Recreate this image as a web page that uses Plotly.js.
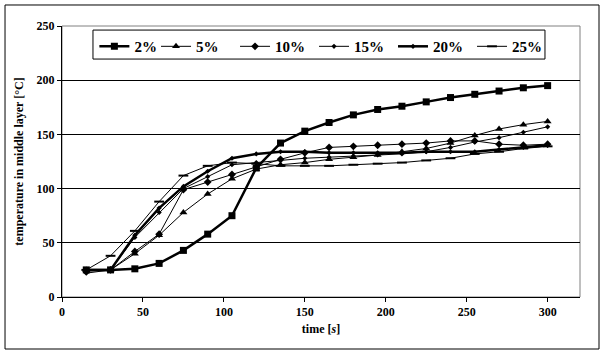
<!DOCTYPE html>
<html>
<head>
<meta charset="utf-8">
<script src="https://cdn.plot.ly/plotly-3.0.1.min.js"></script>
<style>html,body{margin:0;padding:0;background:#fff;}#chart{width:605px;height:354px;}</style>
</head>
<body>
<div id="chart"></div>
<script>
var time = [15,30,45,60,75,90,105,120,135,150,165,180,195,210,225,240,255,270,285,300];
var s2  = [25,25,26,31,43,58,75,119,142,153,161,168,173,176,180,184,187,190,193,195];
var s5  = [25,25,40,57,78,95,109,118,122,124,127,129,131,134,137,142,149,155,159,162];
var s10 = [24,25,42,58,99,106,113,120,127,133,138,139,140,141,142,144,144,141,140,141];
var s15 = [22,25,55,78,100,111,122,124,126,128,129,130,131,132,134,138,143,147,152,157];
var s20 = [25,25,57,82,102,116,128,132,134,134,133,133,133,133,134,134,134,136,138,140];
var s25 = [25,38,61,88,112,121,124,123,121,121,121,122,123,124,126,128,132,134,137,139];
var names = ['2%','5%','10%','15%','20%','25%'];
var xTicks = [0,50,100,150,200,250,300];
var yTicks = [0,50,100,150,200,250];

var styles = [
  {lw:2.5, sym:'square', sz:7},
  {lw:1, sym:'triangle-up', sz:7},
  {lw:1, sym:'diamond', sz:6},
  {lw:1, sym:'diamond', sz:4},
  {lw:2.5, sym:'diamond', sz:4},
  {lw:1, sym:'line-ew', sz:7}
];
var series = [s2,s5,s10,s15,s20,s25];
var traces = series.map(function(s,i){
  var st = styles[i];
  return {
    x: time, y: s, name: names[i], type:'scatter', mode:'lines+markers',
    legend: i===0 ? 'legend' : 'legend2',
    line:{color:'#000', width:st.lw},
    marker:{symbol:st.sym, size:st.sz, color:'#000', line:{color:'#000', width: st.sym==='line-ew'?2:0}}
  };
});

var legFont = {size:15, family:'Liberation Serif, serif', weight:'bold', color:'#000'};
var layout = {
  width:605, height:354,
  margin:{l:62, r:25, t:26, b:57},
  paper_bgcolor:'#fff', plot_bgcolor:'#fff',
  font:{family:'Liberation Serif, Times New Roman, serif', color:'#000'},
  showlegend:true,
  legend:{orientation:'h', x:0.0625, y:0.985, xanchor:'left', yanchor:'top',
    bgcolor:'rgba(0,0,0,0)', borderwidth:0, font:legFont, itemwidth:30},
  legend2:{orientation:'h', x:0.1815, y:0.985, xanchor:'left', yanchor:'top',
    bgcolor:'rgba(0,0,0,0)', borderwidth:0, font:legFont, itemwidth:30,
    entrywidth:34, entrywidthmode:'pixels'},
  xaxis:{range:[0,320], tickvals:xTicks, ticktext:xTicks.map(String),
    showline:true, linecolor:'#000', linewidth:1, ticks:'outside', ticklen:4, tickcolor:'#000',
    showgrid:false, zeroline:false,
    tickfont:{size:12, weight:'bold'},
    title:{text:'time [<i>s</i>]', font:{size:12, weight:'bold'}, standoff:6}},
  yaxis:{range:[0,250], tickvals:yTicks, ticktext:yTicks.map(String),
    showline:true, linecolor:'#000', linewidth:1, ticks:'outside', ticklen:4, tickcolor:'#000',
    showgrid:true, gridcolor:'#000', gridwidth:1, zeroline:false,
    tickfont:{size:12, weight:'bold'},
    title:{text:'temperature in middle layer [°C]', font:{size:12, weight:'bold'}, standoff:10}},
  shapes:[
    {type:'rect', xref:'paper', yref:'paper', x0:0, x1:1, y0:0, y1:1, line:{color:'#808080', width:1}, layer:'below'},
    {type:'rect', xref:'paper', yref:'paper', x0:0.0598, x1:0.9324, y0:0.878, y1:0.985, line:{color:'#000', width:1}, fillcolor:'#fff', layer:'above'},
    {type:'rect', xref:'paper', yref:'paper', x0:-0.110, x1:1.0367, y0:-0.1919, y1:1.0775, line:{color:'#000', width:1}, fillcolor:'rgba(0,0,0,0)'}
  ]
};
Plotly.newPlot('chart', traces, layout, {displayModeBar:false, staticPlot:true});
</script>
</body>
</html>
